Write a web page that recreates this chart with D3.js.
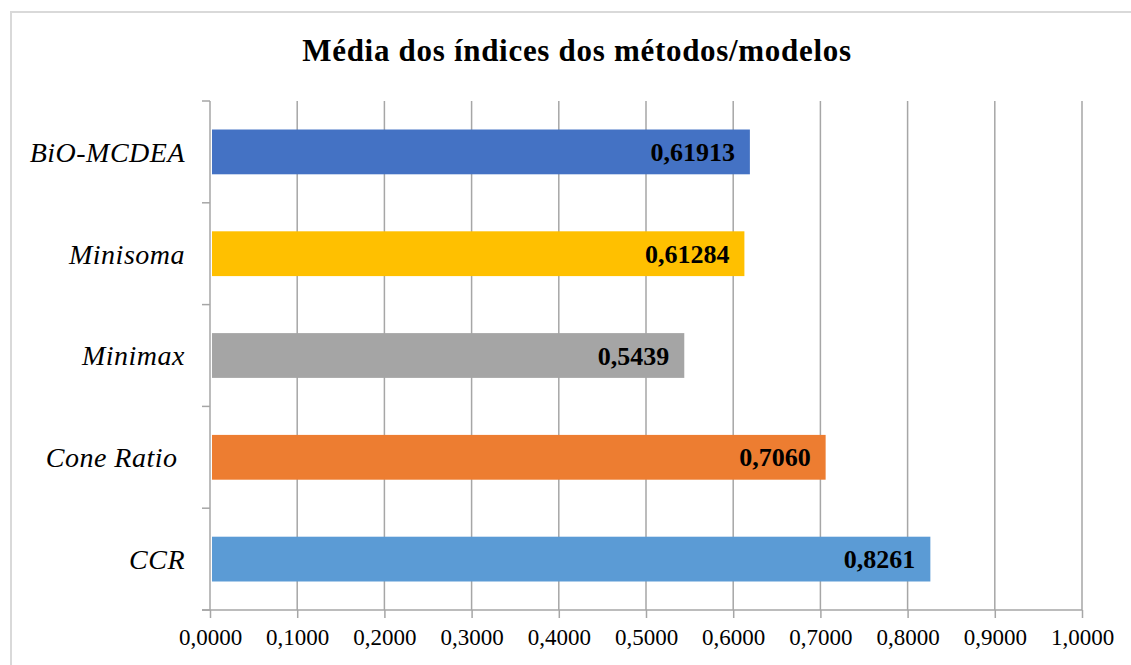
<!DOCTYPE html>
<html lang="pt">

<head>
    <meta charset="UTF-8" />
    <title>Média dos índices dos métodos/modelos</title>
    <script src="https://d3js.org/d3.v7.min.js"></script>
    <style>
        body { margin: 0; background: #fff; }
        svg text { font-family: "Liberation Serif", "Times New Roman", serif; fill: #000; }
    </style>
</head>

<body>
    <svg id="chart"></svg>
</body>

<script>
    // data (top to bottom)
    var categories = ["BiO-MCDEA", "Minisoma", "Minimax", "Cone Ratio ", "CCR"];
    var values = [0.61913, 0.61284, 0.5439, 0.7060, 0.8261];
    var valueLabels = ["0,61913", "0,61284", "0,5439", "0,7060", "0,8261"];
    var colors = ["#4472C4", "#FFC000", "#A5A5A5", "#ED7D31", "#5B9BD5"];
    var tickValues = [0, 0.1, 0.2, 0.3, 0.4, 0.5, 0.6, 0.7, 0.8, 0.9, 1.0];
    var title = "Média dos índices dos métodos/modelos";

    var width = 1131,
        height = 665;
    var margin = { top: 101, right: 49, bottom: 55, left: 210 };

    var svg = d3.select("#chart")
        .attr("width", width)
        .attr("height", height);

    // light chart frame (only top and left edges show in the picture)
    svg.append("path")
        .attr("d", "M11,665 V12 H1131")
        .attr("fill", "none")
        .attr("stroke", "#d9d9d9")
        .attr("stroke-width", 2);

    svg.append("text")
        .attr("x", 577)
        .attr("y", 61)
        .attr("text-anchor", "middle")
        .style("font-size", "31px")
        .style("font-weight", "bold")
        .style("letter-spacing", "0.7px")
        .text(title);

    var x = d3.scaleLinear()
        .domain([0, 1])
        .range([margin.left, width - margin.right]);

    var y = d3.scaleBand()
        .domain(categories)
        .range([margin.top, height - margin.bottom])
        .paddingInner(0.56)
        .paddingOuter(0.28);

    var gridColor = "#a6a6a6";

    // vertical gridlines
    svg.append("g")
        .selectAll("line")
        .data(tickValues.slice(1))
        .join("line")
        .attr("x1", d => x(d))
        .attr("x2", d => x(d))
        .attr("y1", margin.top)
        .attr("y2", height - margin.bottom)
        .attr("stroke", gridColor)
        .attr("stroke-width", 1.5);

    // x axis
    var xAxis = svg.append("g")
        .attr("transform", `translate(0, ${height - margin.bottom})`)
        .call(d3.axisBottom(x)
            .tickValues(tickValues)
            .tickSize(8)
            .tickSizeOuter(0)
            .tickFormat(d => d3.format(".4f")(d).replace(".", ",")));
    xAxis.select(".domain").remove();
    xAxis.selectAll(".tick line").attr("stroke", gridColor).attr("stroke-width", 1.5);
    xAxis.selectAll(".tick text")
        .attr("y", 19)
        .style("font-size", "23px")
        .attr("fill", "#000");
    xAxis.append("line")
        .attr("x1", margin.left - 8)
        .attr("x2", x(1))
        .attr("stroke", gridColor)
        .attr("stroke-width", 1.5);

    // y axis: line with ticks at band boundaries
    var yAxis = svg.append("g");
    yAxis.append("line")
        .attr("x1", margin.left)
        .attr("x2", margin.left)
        .attr("y1", margin.top)
        .attr("y2", height - margin.bottom)
        .attr("stroke", gridColor)
        .attr("stroke-width", 1.5);
    var step = y.step();
    var bounds = categories.map((c, i) => y(c) - y.paddingOuter() * step)
        .concat([height - margin.bottom]);
    yAxis.selectAll("line.tk")
        .data(bounds)
        .join("line")
        .attr("class", "tk")
        .attr("x1", margin.left - 8)
        .attr("x2", margin.left)
        .attr("y1", d => d)
        .attr("y2", d => d)
        .attr("stroke", gridColor)
        .attr("stroke-width", 1.5);

    yAxis.selectAll("text")
        .data(categories)
        .join("text")
        .attr("x", 185)
        .attr("y", d => y(d) + y.bandwidth() / 2)
        .attr("dy", "0.35em")
        .attr("text-anchor", "end")
        .style("font-size", "28px")
        .style("font-style", "italic")
        .style("letter-spacing", "0.5px")
        .style("white-space", "pre")
        .text(d => d);

    // bars
    svg.append("g")
        .selectAll("rect")
        .data(values)
        .join("rect")
        .attr("x", x(0) + 2)
        .attr("y", (d, i) => y(categories[i]))
        .attr("width", d => x(d) - x(0) - 2)
        .attr("height", y.bandwidth())
        .attr("fill", (d, i) => colors[i]);

    // value labels inside bar ends
    svg.append("g")
        .selectAll("text")
        .data(values)
        .join("text")
        .attr("x", d => x(d) - 15)
        .attr("y", (d, i) => y(categories[i]) + y.bandwidth() / 2)
        .attr("dy", "0.35em")
        .attr("text-anchor", "end")
        .style("font-size", "26px")
        .style("font-weight", "bold")
        .text((d, i) => valueLabels[i]);
</script>

</html>
